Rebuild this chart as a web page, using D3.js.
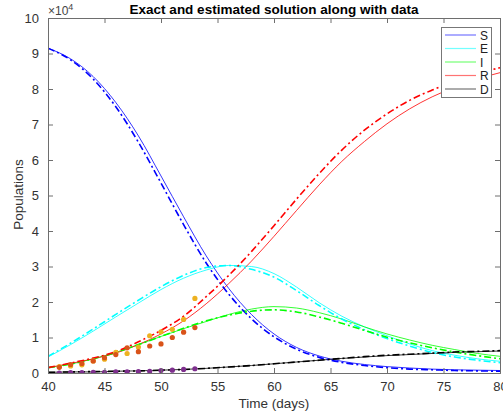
<!DOCTYPE html>
<html>
<head>
<meta charset="utf-8">
<script src="https://cdn.jsdelivr.net/npm/d3@7"></script>
<style>
  body { margin: 0; background: #fff; }
  svg text { font-family: "Liberation Sans", Arial, sans-serif; }
</style>
</head>
<body>
<svg id="chart" width="503" height="418"></svg>
<script>
// time grid for the curves (days)
const days = [40, 42, 44, 46, 48, 50, 52, 54, 56, 58, 60, 62, 64, 66, 68, 70, 72, 74, 76, 78, 80];

// exact solution (solid), values in 1e4
const S_exact = [9.15, 8.85, 8.35, 7.62, 6.68, 5.55, 4.4, 3.3, 2.38, 1.65, 1.1, 0.72, 0.48, 0.33, 0.24, 0.18, 0.14, 0.11, 0.09, 0.08, 0.07];
const E_exact = [0.45, 0.8, 1.18, 1.58, 1.97, 2.35, 2.67, 2.9, 3.03, 3.0, 2.8, 2.42, 1.98, 1.6, 1.3, 1.05, 0.82, 0.63, 0.5, 0.4, 0.33];
const I_exact = [0.15, 0.25, 0.4, 0.58, 0.8, 1.03, 1.25, 1.45, 1.65, 1.8, 1.87, 1.83, 1.7, 1.52, 1.3, 1.1, 0.93, 0.78, 0.66, 0.55, 0.47];
const R_exact = [0.15, 0.27, 0.4, 0.56, 0.8, 1.1, 1.47, 1.95, 2.52, 3.15, 3.85, 4.58, 5.3, 5.96, 6.52, 7.02, 7.44, 7.78, 8.05, 8.28, 8.46];
const D_exact = [0.02, 0.03, 0.03, 0.05, 0.06, 0.08, 0.1, 0.13, 0.17, 0.21, 0.26, 0.31, 0.36, 0.41, 0.45, 0.49, 0.52, 0.55, 0.58, 0.6, 0.62];

// estimated solution (dash-dot)
const S_est = [9.15, 8.82, 8.28, 7.5, 6.5, 5.35, 4.18, 3.1, 2.22, 1.53, 1.02, 0.67, 0.44, 0.3, 0.21, 0.15, 0.11, 0.09, 0.07, 0.06, 0.05];
const E_est = [0.47, 0.84, 1.24, 1.65, 2.05, 2.43, 2.75, 2.97, 3.03, 2.92, 2.7, 2.32, 1.9, 1.52, 1.22, 0.97, 0.76, 0.58, 0.45, 0.36, 0.29];
const I_est = [0.15, 0.25, 0.4, 0.58, 0.8, 1.03, 1.26, 1.47, 1.63, 1.74, 1.78, 1.72, 1.58, 1.4, 1.2, 1.01, 0.85, 0.71, 0.59, 0.49, 0.4];
const R_est = [0.15, 0.28, 0.42, 0.6, 0.88, 1.2, 1.6, 2.15, 2.75, 3.42, 4.15, 4.9, 5.62, 6.28, 6.84, 7.3, 7.68, 7.97, 8.22, 8.43, 8.6];
const D_est = [0.02, 0.03, 0.04, 0.05, 0.06, 0.08, 0.1, 0.13, 0.17, 0.21, 0.26, 0.31, 0.36, 0.41, 0.46, 0.5, 0.53, 0.56, 0.59, 0.61, 0.63];

// observed data
const dataDays = [41, 42, 43, 44, 45, 46, 47, 48, 49, 50, 51, 52, 53];
const data1 = [0.18, 0.2, 0.23, 0.34, 0.39, 0.58, 0.55, 0.73, 1.05, 1.16, 1.23, 1.51, 2.1];
const data2 = [0.16, 0.24, 0.27, 0.34, 0.43, 0.52, 0.71, 0.6, 0.76, 0.82, 1.0, 1.15, 1.28];
const data3 = [0.0, 0.01, 0.01, 0.02, 0.02, 0.03, 0.03, 0.04, 0.05, 0.07, 0.08, 0.1, 0.12];

const names = ["S", "E", "I", "R", "D"];
const colors = ["#0000ff", "#00ffff", "#00ff00", "#ff0000", "#000000"];
const exact = [S_exact, E_exact, I_exact, R_exact, D_exact];
const est = [S_est, E_est, I_est, R_est, D_est];
const dataColors = ["#EDB120", "#D95319", "#7E2F8E"];
const dataSets = [data1, data2, data3];

const xTicks = [40, 45, 50, 55, 60, 65, 70, 75, 80];
const yTicks = [0, 1, 2, 3, 4, 5, 6, 7, 8, 9, 10];

const margin = { left: 48, top: 18, right: 3, bottom: 45 };
const W = 503, H = 418;
const innerW = W - margin.left - margin.right;
const innerH = H - margin.top - margin.bottom;

const svg = d3.select("#chart");
const g = svg.append("g").attr("transform", `translate(${margin.left},${margin.top})`);

const x = d3.scaleLinear().domain([40, 80]).range([0, innerW]);
const y = d3.scaleLinear().domain([0, 10]).range([innerH, 0]);

svg.append("defs").append("clipPath").attr("id", "clip")
  .append("rect").attr("width", innerW).attr("height", innerH);

const plot = g.append("g").attr("clip-path", "url(#clip)");

const line = d3.line()
  .x((d, i) => x(days[i]))
  .y(d => y(d))
  .curve(d3.curveMonotoneX);

// exact solutions
exact.forEach((arr, k) => {
  plot.append("path")
    .datum(arr)
    .attr("d", line)
    .attr("fill", "none")
    .attr("stroke", colors[k])
    .attr("stroke-width", 0.8);
});

// estimated solutions
est.forEach((arr, k) => {
  plot.append("path")
    .datum(arr)
    .attr("d", line)
    .attr("fill", "none")
    .attr("stroke", colors[k])
    .attr("stroke-width", 1.6)
    .attr("stroke-dasharray", "7,3,2,3");
});

// data points
dataSets.forEach((arr, k) => {
  plot.selectAll(".dot" + k)
    .data(arr)
    .enter()
    .append("circle")
    .attr("cx", (d, i) => x(dataDays[i]))
    .attr("cy", d => y(d))
    .attr("r", 2.6)
    .attr("fill", dataColors[k]);
});

// axes (box with inward ticks)
const axisColor = "#6e6e6e";
const xAxis = g.append("g")
  .attr("transform", `translate(0,${innerH})`)
  .call(d3.axisBottom(x).tickValues(xTicks).tickSize(-5).tickPadding(9));
const yAxis = g.append("g")
  .call(d3.axisLeft(y).tickValues(yTicks).tickSize(-5).tickPadding(9));
const xTop = g.append("g")
  .call(d3.axisTop(x).tickValues(xTicks).tickSize(-5).tickFormat(""));
const yRight = g.append("g")
  .attr("transform", `translate(${innerW},0)`)
  .call(d3.axisRight(y).tickValues(yTicks).tickSize(-5).tickFormat(""));

[xAxis, yAxis, xTop, yRight].forEach(a => {
  a.selectAll("path").attr("stroke", axisColor).attr("stroke-width", 1);
  a.selectAll("line").attr("stroke", axisColor).attr("stroke-width", 1);
  a.selectAll("text")
    .attr("fill", "#333")
    .style("font-size", "13px")
    .style("font-family", "Liberation Sans, Arial, sans-serif");
});

// exponent label
const expo = g.append("text")
  .attr("x", 0)
  .attr("y", -3)
  .attr("fill", "#444")
  .style("font-size", "12px");
expo.append("tspan").text("\u00d710");
expo.append("tspan").attr("dy", -5).style("font-size", "9px").text("4");

// title
svg.append("text")
  .attr("x", margin.left + innerW / 2)
  .attr("y", 13.5)
  .attr("text-anchor", "middle")
  .attr("font-weight", "bold")
  .style("font-size", "13.5px")
  .attr("fill", "#000")
  .text("Exact and estimated solution along with data");

// axis labels
svg.append("text")
  .attr("x", margin.left + innerW / 2)
  .attr("y", 408)
  .attr("text-anchor", "middle")
  .style("font-size", "13.5px")
  .attr("fill", "#333")
  .text("Time (days)");

svg.append("text")
  .attr("transform", `translate(22.5,${margin.top + innerH / 2 - 1}) rotate(-90)`)
  .attr("text-anchor", "middle")
  .style("font-size", "13.5px")
  .attr("fill", "#333")
  .text("Populations");

// legend
const leg = svg.append("g").attr("transform", "translate(441,27)");
leg.append("rect")
  .attr("x", 0.5).attr("y", 0.5)
  .attr("width", 50).attr("height", 70)
  .attr("fill", "#fff")
  .attr("stroke", "#777")
  .attr("stroke-width", 1);
names.forEach((n, i) => {
  const yy = 8 + i * 13.5;
  leg.append("line")
    .attr("x1", 4).attr("x2", 35)
    .attr("y1", yy).attr("y2", yy)
    .attr("stroke", colors[i])
    .attr("stroke-opacity", 0.55)
    .attr("stroke-width", 1.2);
  leg.append("text")
    .attr("x", 39).attr("y", yy + 4.5)
    .style("font-size", "12px")
    .attr("fill", "#222")
    .text(n);
});
</script>
</body>
</html>
